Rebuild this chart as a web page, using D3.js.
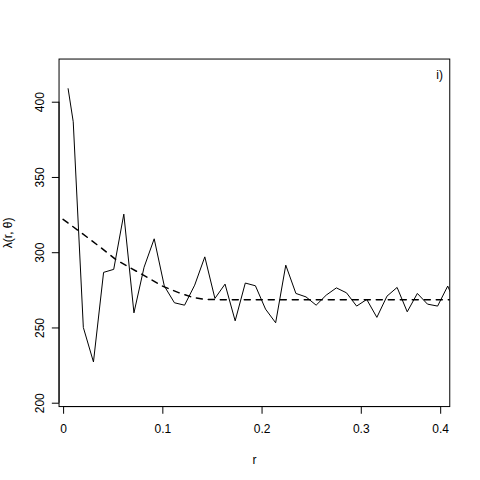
<!DOCTYPE html>
<html>
<head>
<meta charset="utf-8">
<script src="https://cdn.jsdelivr.net/npm/d3@7"></script>
<style>
  body { margin: 0; background: #fff; }
  svg { display: block; font-family: "Liberation Sans", Arial, Helvetica, sans-serif; }
</style>
</head>
<body>
<svg id="chart"></svg>
<script>
// observed intensity (solid line)
const rObs = [0.005, 0.0102, 0.0204, 0.0306, 0.0408, 0.051, 0.0612, 0.0714, 0.0816, 0.0918,
  0.102, 0.1122, 0.1224, 0.1326, 0.1428, 0.153, 0.1632, 0.1734, 0.1836, 0.1938,
  0.204, 0.2142, 0.2244, 0.2346, 0.2448, 0.255, 0.2652, 0.2754, 0.2856, 0.2958,
  0.306, 0.3162, 0.3264, 0.3366, 0.3468, 0.357, 0.3672, 0.3774, 0.3876, 0.3978];
const lamObs = [408.9, 386.7, 250.0, 227.1, 286.6, 288.6, 325.3, 259.7, 290.0, 308.9,
  277.5, 266.4, 264.8, 278.1, 296.9, 269.3, 278.8, 254.4, 279.5, 277.7,
  262.2, 253.1, 291.4, 272.6, 270.3, 264.8, 271.5, 276.3, 273.0, 264.2,
  268.6, 256.7, 270.8, 276.6, 260.4, 272.6, 265.5, 264.2, 277.5, 262.0];

// fitted intensity (dashed line)
const rFit = [0, 0.017, 0.037, 0.054, 0.067, 0.084, 0.1, 0.117, 0.131, 0.144, 0.16, 0.4];
const lamFit = [321.8, 313.6, 303.6, 294.7, 289.9, 283.6, 277.5, 273.0, 269.9, 268.6, 268.4, 268.4];

// axes
const xTicks = [0, 0.1, 0.2, 0.3, 0.38];
const xTickLabels = ["0", "0.1", "0.2", "0.3", "0.4"];
const yTicks = [200, 250, 300, 350, 400];

const width = 480, height = 480;
const mLeft = 59.04, mRight = 449.76, mTop = 59.04, mBottom = 406.56;

const svg = d3.select("#chart").attr("width", width).attr("height", height);

const x = d3.scaleLinear().domain([-0.00409, 0.38966]).range([mLeft, mRight]);
const y = d3.scaleLinear().domain([197.44, 428.35]).range([mBottom, mTop]);

svg.append("clipPath").attr("id", "plotclip")
  .append("rect")
  .attr("x", mLeft).attr("y", mTop)
  .attr("width", mRight - mLeft).attr("height", mBottom - mTop);

const plot = svg.append("g").attr("clip-path", "url(#plotclip)");

const line = d3.line().x(d => x(d[0])).y(d => y(d[1]));

plot.append("path")
  .datum(rObs.map((r, i) => [r, lamObs[i]]))
  .attr("d", line)
  .attr("fill", "none")
  .attr("stroke", "#000")
  .attr("stroke-width", 1);

plot.append("path")
  .datum(rFit.map((r, i) => [r, lamFit[i]]))
  .attr("d", line)
  .attr("fill", "none")
  .attr("stroke", "#000")
  .attr("stroke-width", 1.5)
  .attr("stroke-linecap", "round")
  .attr("stroke-dasharray", "6,6");

// box
svg.append("rect")
  .attr("x", mLeft).attr("y", mTop)
  .attr("width", mRight - mLeft).attr("height", mBottom - mTop)
  .attr("fill", "none").attr("stroke", "#000").attr("stroke-width", 1);

// x axis
const xAxis = svg.append("g")
  .attr("transform", `translate(0,${mBottom})`)
  .call(d3.axisBottom(x).tickValues(xTicks)
    .tickFormat((d, i) => xTickLabels[i]).tickSize(7.2).tickSizeOuter(0));
xAxis.select(".domain").remove();
xAxis.append("line")
  .attr("x1", x(xTicks[0])).attr("x2", x(xTicks[xTicks.length - 1]))
  .attr("stroke", "#000");
xAxis.selectAll(".tick line").attr("stroke", "#000");
xAxis.selectAll(".tick text")
  .attr("y", 26).attr("dy", null)
  .attr("fill", "#000").attr("font-size", 12)
  .attr("font-family", "Liberation Sans, Arial, sans-serif");

// y axis
const yAxis = svg.append("g")
  .attr("transform", `translate(${mLeft},0)`)
  .call(d3.axisLeft(y).tickValues(yTicks).tickSize(7.2).tickSizeOuter(0));
yAxis.select(".domain").remove();
yAxis.append("line")
  .attr("y1", y(yTicks[0])).attr("y2", y(yTicks[yTicks.length - 1]))
  .attr("stroke", "#000");
yAxis.selectAll(".tick line").attr("stroke", "#000");
yAxis.selectAll(".tick text")
  .attr("x", null).attr("dy", null)
  .attr("transform", "translate(-15,0) rotate(-90)")
  .attr("y", 0)
  .attr("text-anchor", "middle")
  .attr("fill", "#000").attr("font-size", 12)
  .attr("font-family", "Liberation Sans, Arial, sans-serif");

// axis titles
svg.append("text")
  .attr("x", (mLeft + mRight) / 2).attr("y", 464)
  .attr("text-anchor", "middle").attr("font-size", 12)
  .text("r");

svg.append("text")
  .attr("transform", `translate(11.5,${(mTop + mBottom) / 2}) rotate(-90)`)
  .attr("text-anchor", "middle").attr("font-size", 12)
  .text("λ(r, θ)");

// panel label
svg.append("text")
  .attr("x", 443).attr("y", 79)
  .attr("text-anchor", "end").attr("font-size", 12)
  .text("i)");
</script>
</body>
</html>
